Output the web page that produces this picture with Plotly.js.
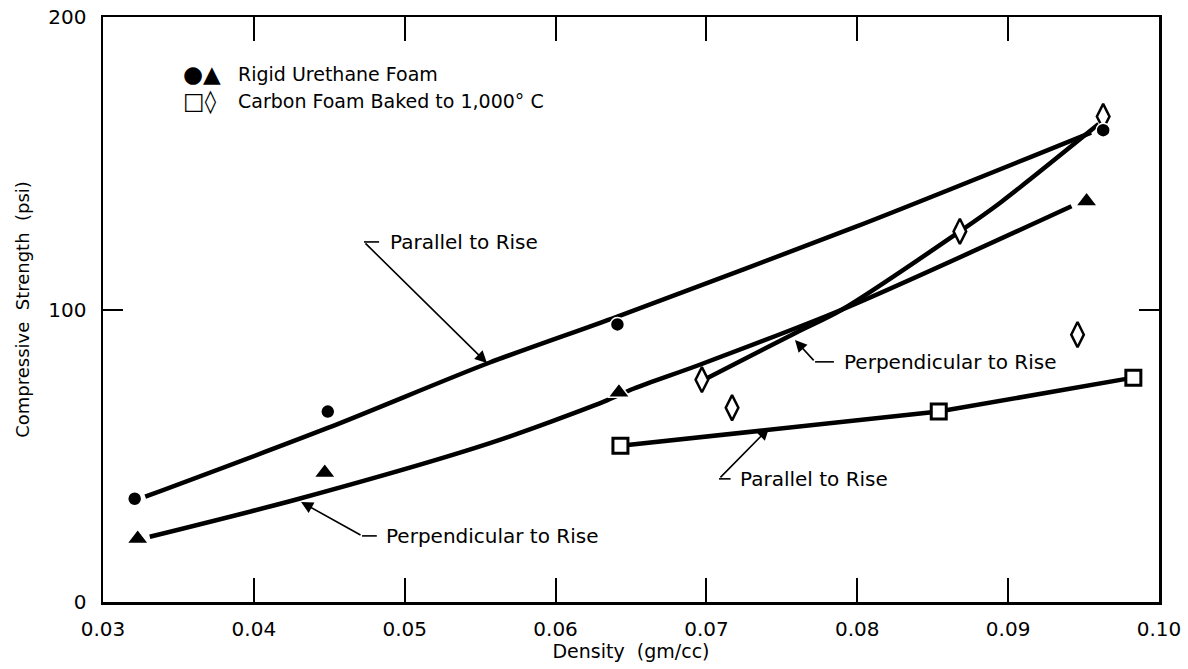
<!DOCTYPE html>
<html>
<head>
<meta charset="utf-8">
<script src="https://cdn.plot.ly/plotly-3.0.1.min.js"></script>
<style>html,body{margin:0;padding:0;background:#fff;}#chart{width:1188px;height:669px;}</style>
</head>
<body>
<div id="chart"></div>
<script>
// ---------- data ----------
const xTickVals = [0.03, 0.04, 0.05, 0.06, 0.07, 0.08, 0.09, 0.10];
const xTickText = ["0.03", "0.04", "0.05", "0.06", "0.07", "0.08", "0.09", "0.10"];
const yTickVals = [0, 100, 200];
const yTickText = ["0", "100", "200"];

// Rigid urethane foam – circles (parallel to rise)
const urethaneParX = [0.0321, 0.0449, 0.0641, 0.0963];
const urethaneParY = [35.3, 65.1, 94.9, 161.3];
// Rigid urethane foam – triangles (perpendicular to rise)
const urethanePerpX = [0.0323, 0.0447, 0.0642, 0.0952];
const urethanePerpY = [21.6, 44.2, 71.6, 137.0];
// Carbon foam – squares (parallel to rise)
const carbonParX = [0.0643, 0.0854, 0.0983];
const carbonParY = [53.4, 65.1, 76.7];
// Carbon foam – diamonds (perpendicular to rise)
const carbonPerpX = [0.0697, 0.0717, 0.0868, 0.0946, 0.0963];
const carbonPerpY = [76.0, 66.4, 126.7, 91.4, 166.0];

// Hand-drawn fitted curves
const fitUrethaneParX = [0.0328, 0.0449, 0.0556, 0.0641, 0.0800, 0.0955];
const fitUrethaneParY = [36.0, 59.5, 81.8, 97.6, 128.5, 160.5];
const fitUrethanePerpX = [0.0331, 0.0430, 0.0557, 0.0632, 0.0652, 0.0696, 0.0790, 0.0942];
const fitUrethanePerpY = [22.3, 35.3, 54.4, 68.5, 73.0, 81.2, 100.0, 135.3];
const fitCarbonPerpX = [0.0701, 0.0759, 0.0790, 0.0868, 0.0895, 0.0960];
const fitCarbonPerpY = [76.7, 92.0, 100.0, 126.7, 136.6, 163.4];

const FONT = "DejaVu Sans, Arial, sans-serif";
const INK = "#000";

const traces = [
  {x: fitUrethaneParX, y: fitUrethaneParY, mode: "lines", line: {color: INK, width: 4.5, shape: "spline", smoothing: 0.8}, hoverinfo: "skip", name: "Urethane parallel fit"},
  {x: fitUrethanePerpX, y: fitUrethanePerpY, mode: "lines", line: {color: INK, width: 4.5, shape: "spline", smoothing: 0.8}, hoverinfo: "skip", name: "Urethane perpendicular fit"},
  {x: fitCarbonPerpX, y: fitCarbonPerpY, mode: "lines", line: {color: INK, width: 4.5, shape: "spline", smoothing: 0.8}, hoverinfo: "skip", name: "Carbon perpendicular fit"},
  {x: carbonParX, y: carbonParY, mode: "lines+markers", name: "Carbon foam, parallel",
   line: {color: INK, width: 4.5},
   marker: {symbol: "square", size: 15, color: "#fff", line: {color: INK, width: 3}}},
  {x: carbonPerpX, y: carbonPerpY, mode: "markers", name: "Carbon foam, perpendicular",
   marker: {symbol: "diamond-tall", size: 18, color: "#fff", line: {color: INK, width: 2.5}}},
  {x: urethaneParX, y: urethaneParY, mode: "markers", name: "Rigid urethane, parallel",
   marker: {symbol: "circle", size: 14, color: INK, line: {color: "#fff", width: 1.5}}},
  {x: urethanePerpX, y: urethanePerpY, mode: "markers", name: "Rigid urethane, perpendicular",
   marker: {symbol: "triangle-up", size: 19, color: INK, line: {color: "#fff", width: 1.5}}}
];

const labelFont = {family: FONT, size: 20, color: INK};
function txt(x, y, text) {
  return {x: x, y: y, xref: "x", yref: "y", text: text, showarrow: false, xanchor: "left", yanchor: "middle", font: labelFont};
}
function arrow(hx, hy, tx, ty) {
  return {x: hx, y: hy, ax: tx, ay: ty, xref: "x", yref: "y", axref: "x", ayref: "y", text: "",
          showarrow: true, arrowhead: 2, arrowsize: 1.5, arrowwidth: 1.6, arrowcolor: INK, standoff: 0, startstandoff: 0};
}
function stub(x0, x1, y) {
  return {type: "line", xref: "x", yref: "y", x0: x0, x1: x1, y0: y, y1: y, line: {color: INK, width: 1.6}};
}

const annotations = [
  txt(0.04889, 123.1, "Parallel to Rise"),
  arrow(0.05545, 81.7, 0.04730, 123.1),
  txt(0.04863, 22.4, "Perpendicular to Rise"),
  arrow(0.04313, 34.2, 0.04717, 22.6),
  txt(0.07900, 81.9, "Perpendicular to Rise"),
  arrow(0.07587, 89.6, 0.07720, 82.1),
  txt(0.07209, 41.9, "Parallel to Rise"),
  arrow(0.07415, 59.5, 0.07083, 42.1),
  // legend
  {x: 0.0735, y: 0.903, xref: "paper", yref: "paper", text: "\u25CF\u25B2", showarrow: false, xanchor: "left", yanchor: "middle", font: {family: FONT, size: 23, color: INK}},
  {x: 0.126, y: 0.903, xref: "paper", yref: "paper", text: "Rigid Urethane Foam", showarrow: false, xanchor: "left", yanchor: "middle", font: {family: FONT, size: 19, color: INK}},
  {x: 0.0735, y: 0.856, xref: "paper", yref: "paper", text: "\u25A1\u25CA", showarrow: false, xanchor: "left", yanchor: "middle", font: {family: FONT, size: 23, color: INK}},
  {x: 0.126, y: 0.856, xref: "paper", yref: "paper", text: "Carbon Foam Baked to 1,000\u00B0 C", showarrow: false, xanchor: "left", yanchor: "middle", font: {family: FONT, size: 19, color: INK}}
];

const shapes = [
  stub(0.04730, 0.04830, 123.1),
  stub(0.04717, 0.04815, 22.6),
  stub(0.07720, 0.07845, 82.1),
  stub(0.07083, 0.07160, 42.1)
];

const layout = {
  width: 1188, height: 669,
  margin: {l: 103, r: 29, t: 17, b: 67},
  paper_bgcolor: "#fff", plot_bgcolor: "#fff",
  showlegend: false,
  font: {family: FONT, size: 18, color: INK},
  xaxis: {
    range: [0.03, 0.10], tickvals: xTickVals, ticktext: xTickText,
    ticks: "inside", ticklen: 24, tickwidth: 2, tickcolor: INK,
    showline: true, linewidth: 2.5, linecolor: INK, mirror: "ticks",
    showgrid: false, zeroline: false, ticklabelstandoff: 7,
    tickfont: {family: FONT, size: 20, color: INK},
    title: {text: "Density  (gm/cc)", font: {family: FONT, size: 19, color: INK}, standoff: 4}
  },
  yaxis: {
    range: [0, 200], tickvals: yTickVals, ticktext: yTickText,
    ticks: "inside", ticklen: 20, tickwidth: 2, tickcolor: INK,
    showline: true, linewidth: 2.5, linecolor: INK, mirror: "ticks",
    showgrid: false, zeroline: false, ticklabelstandoff: 10,
    tickfont: {family: FONT, size: 20, color: INK},
    title: {text: "Compressive  Strength  (psi)", font: {family: FONT, size: 18, color: INK}, standoff: 14}
  },
  annotations: annotations,
  shapes: shapes
};

Plotly.newPlot("chart", traces, layout, {staticPlot: true, displayModeBar: false});
</script>
</body>
</html>
